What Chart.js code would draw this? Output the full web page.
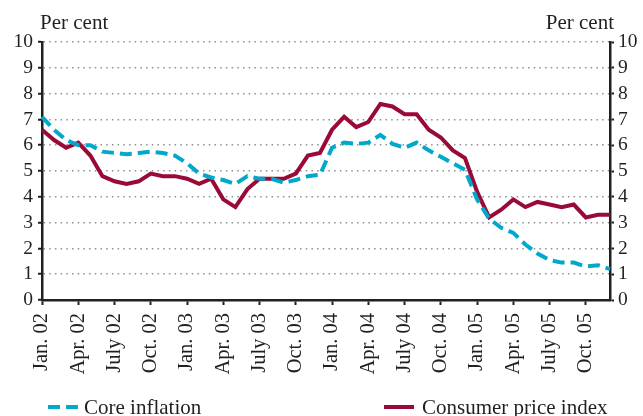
<!DOCTYPE html>
<html>
<head>
<meta charset="utf-8">
<script src="https://cdn.jsdelivr.net/npm/chart.js@4.4.0/dist/chart.umd.min.js"></script>
<style>
  body { margin: 0; background: #fff; }
  #wrap { position: relative; width: 643px; height: 416px; }
</style>
</head>
<body>
<div id="wrap"><canvas id="chart"></canvas></div>
<script>
// monthly observations Jan. 02 - Dec. 05
var monthNames = ["Jan.", "Feb.", "Mar.", "Apr.", "May", "June", "July", "Aug.", "Sep.", "Oct.", "Nov.", "Dec."];
var years = ["02", "03", "04", "05"];
var quarterLabels = ["Jan. 02", "Apr. 02", "July 02", "Oct. 02", "Jan. 03", "Apr. 03", "July 03", "Oct. 03",
                     "Jan. 04", "Apr. 04", "July 04", "Oct. 04", "Jan. 05", "Apr. 05", "July 05", "Oct. 05"];
var yTicks = [0, 1, 2, 3, 4, 5, 6, 7, 8, 9, 10];

var coreInflation = [7.1, 6.6, 6.2, 6.0, 6.0, 5.75, 5.7, 5.65, 5.7, 5.75, 5.7, 5.6,
                     5.3, 4.9, 4.75, 4.65, 4.5, 4.8, 4.7, 4.7, 4.55, 4.65, 4.8, 4.85,
                     5.9, 6.1, 6.05, 6.1, 6.4, 6.05, 5.9, 6.1, 5.8, 5.55, 5.3, 5.05,
                     3.9, 3.15, 2.8, 2.6, 2.15, 1.8, 1.55, 1.45, 1.45, 1.3, 1.35, 1.2];
var cpi = [6.6, 6.2, 5.9, 6.1, 5.6, 4.8, 4.6, 4.5, 4.6, 4.9, 4.8, 4.8,
           4.7, 4.5, 4.7, 3.9, 3.6, 4.3, 4.7, 4.7, 4.7, 4.9, 5.6, 5.7,
           6.6, 7.1, 6.7, 6.9, 7.6, 7.5, 7.2, 7.2, 6.6, 6.3, 5.8, 5.5,
           4.2, 3.2, 3.5, 3.9, 3.6, 3.8, 3.7, 3.6, 3.7, 3.2, 3.3, 3.3];

var seriesNames = ["Core inflation", "Consumer price index"];
var unitLabel = "Per cent";

var months = [];
years.forEach(function(y) {
    monthNames.forEach(function(m) { months.push(m + " " + y); });
});

var FONT = "'Liberation Serif', 'Times New Roman', serif";
var BLUE = "#00a8cb";
var RED = "#990b36";
var INK = "#231f20";

// "Per cent" titles and legend
var decorations = {
    id: "decorations",
    afterDraw: function(chart) {
        var ctx = chart.ctx;
        ctx.save();
        ctx.fillStyle = INK;
        ctx.font = "21px " + FONT;
        ctx.textBaseline = "alphabetic";
        ctx.textAlign = "left";
        ctx.fillText(unitLabel, 40, 29);
        ctx.textAlign = "right";
        ctx.fillText(unitLabel, 614, 29);

        // legend
        var ly = 407;
        ctx.lineWidth = 4;
        ctx.strokeStyle = BLUE;
        ctx.setLineDash([12, 6]);
        ctx.beginPath();
        ctx.moveTo(48, ly);
        ctx.lineTo(78, ly);
        ctx.stroke();
        ctx.setLineDash([]);
        ctx.strokeStyle = RED;
        ctx.beginPath();
        ctx.moveTo(384, ly);
        ctx.lineTo(414, ly);
        ctx.stroke();

        ctx.font = "21px " + FONT;
        ctx.textAlign = "left";
        ctx.textBaseline = "middle";
        ctx.fillText(seriesNames[0], 84, ly + 1);
        ctx.fillText(seriesNames[1], 422, ly + 1);
        ctx.restore();
    }
};

var ctx = document.getElementById("chart");
new Chart(ctx, {
    type: "line",
    data: {
        labels: months,
        datasets: [
            {
                label: seriesNames[0],
                data: coreInflation,
                borderColor: BLUE,
                backgroundColor: BLUE,
                borderWidth: 4,
                borderDash: [12, 6],
                pointRadius: 0,
                tension: 0,
                fill: false
            },
            {
                label: seriesNames[1],
                data: cpi,
                borderColor: RED,
                backgroundColor: RED,
                borderWidth: 4,
                pointRadius: 0,
                tension: 0,
                fill: false
            }
        ]
    },
    options: {
        responsive: true,
        maintainAspectRatio: false,
        animation: false,
        layout: { padding: { top: 42, left: 0, right: 0, bottom: 0 } },
        plugins: {
            legend: { display: false },
            tooltip: { enabled: false }
        },
        scales: {
            x: {
                type: "category",
                offset: false,
                afterFit: function(scale) { scale.height = 116; },
                grid: {
                    drawOnChartArea: false,
                    drawTicks: true,
                    tickLength: 5,
                    tickWidth: 2,
                    tickColor: function(c) { return c.index % 3 === 0 ? INK : "rgba(0,0,0,0)"; }
                },
                border: { display: true, color: INK, width: 2.5 },
                ticks: {
                    autoSkip: false,
                    minRotation: 90,
                    maxRotation: 90,
                    padding: 8,
                    color: INK,
                    font: { family: FONT, size: 20.5 },
                    callback: function(v, i) { return i % 3 === 0 ? quarterLabels[i / 3] : ""; }
                }
            },
            y: {
                position: "left",
                min: yTicks[0],
                max: yTicks[yTicks.length - 1],
                afterFit: function(scale) { scale.width = 42; },
                afterBuildTicks: function(scale) { scale.ticks = yTicks.map(function(v) { return { value: v }; }); },
                grid: {
                    color: function(c) { return c.tick && c.tick.value === 0 ? "rgba(0,0,0,0)" : "#8f8f8f"; },
                    lineWidth: 1.5,
                    drawTicks: true,
                    tickLength: 4,
                    tickWidth: 2,
                    tickColor: INK
                },
                border: { display: true, color: INK, width: 2.5, dash: [1.5, 4.2] },
                ticks: {
                    autoSkip: false,
                    padding: 5,
                    color: INK,
                    font: { family: FONT, size: 19.5 }
                }
            },
            y2: {
                position: "right",
                min: yTicks[0],
                max: yTicks[yTicks.length - 1],
                afterFit: function(scale) { scale.width = 33; },
                afterBuildTicks: function(scale) { scale.ticks = yTicks.map(function(v) { return { value: v }; }); },
                grid: {
                    drawOnChartArea: false,
                    drawTicks: true,
                    tickLength: 4,
                    tickWidth: 2,
                    tickColor: INK
                },
                border: { display: true, color: INK, width: 2.5 },
                ticks: {
                    autoSkip: false,
                    padding: 4,
                    color: INK,
                    font: { family: FONT, size: 19.5 }
                }
            }
        }
    },
    plugins: [decorations]
});
</script>
</body>
</html>
